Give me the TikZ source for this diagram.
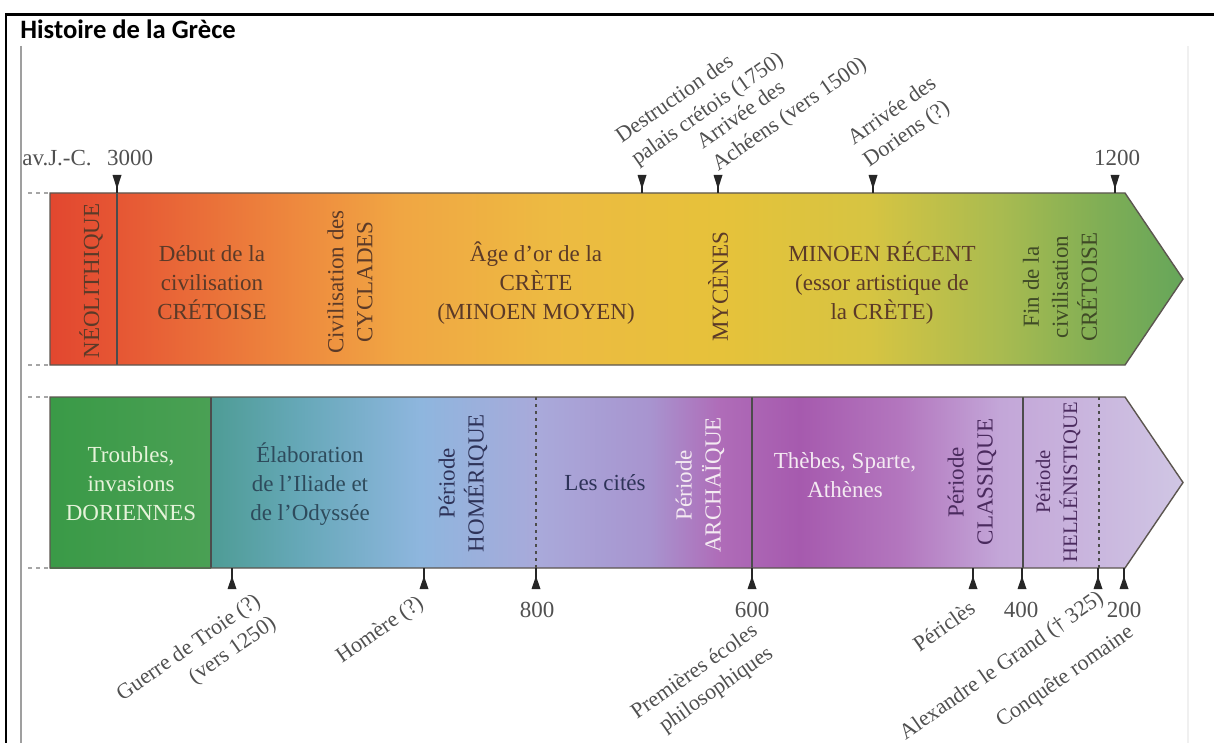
\documentclass[tikz,border=0pt]{standalone}
\usepackage{fontspec}
\setmainfont{Liberation Serif}
\newfontfamily\titlefont{Carlito}
\definecolor{bandline}{HTML}{5C5650}
\definecolor{eventgray}{HTML}{505050}
\definecolor{cretetext}{HTML}{5B3A28}
\definecolor{fintext}{HTML}{3F4A26}
\definecolor{paletext}{HTML}{F4EAF2}
\definecolor{dortext}{HTML}{E6F3DA}
\definecolor{iliadtext}{HTML}{2E4B5C}
\definecolor{navytext}{HTML}{2E3358}
\definecolor{plumtext}{HTML}{4A2A5E}
% couleurs de la bande minoenne
\definecolor{neored}{HTML}{E2472F}
\definecolor{cretered}{HTML}{E65634}
\definecolor{creteorange}{HTML}{EE8A3E}
\definecolor{cycladorange}{HTML}{F0A643}
\definecolor{goldage}{HTML}{EDBA42}
\definecolor{mycgold}{HTML}{E6C23A}
\definecolor{recentgold}{HTML}{D6C442}
\definecolor{finolive}{HTML}{A9BB50}
\definecolor{fingreen}{HTML}{80AE55}
\definecolor{tipgreen}{HTML}{66A65A}
% couleurs de la bande grecque
\definecolor{dorgreen}{HTML}{3A9A47}
\definecolor{dorgreenlight}{HTML}{4AA054}
\definecolor{iliadteal}{HTML}{4E9C95}
\definecolor{iliadblue}{HTML}{66A8B8}
\definecolor{homerblue}{HTML}{8EB6DE}
\definecolor{citylav}{HTML}{A9A9DA}
\definecolor{citylilac}{HTML}{A894CF}
\definecolor{archpurple}{HTML}{AF6CB8}
\definecolor{thebpurple}{HTML}{A65AAE}
\definecolor{classlilac}{HTML}{B376BE}
\definecolor{hellenlav}{HTML}{C3A6D8}
\definecolor{tiplav}{HTML}{D0C6E4}
\pgfdeclarehorizontalshading{minoshade}{100bp}{color(0bp)=(neored); color(25bp)=(neored);
  color(27.96bp)=(cretered); color(36.03bp)=(creteorange); color(40.45bp)=(cycladorange);
  color(47.07bp)=(goldage); color(54.57bp)=(mycgold); color(61.19bp)=(recentgold);
  color(66.92bp)=(finolive); color(71.34bp)=(fingreen); color(75bp)=(tipgreen); color(100bp)=(tipgreen)}
\pgfdeclarehorizontalshading{greekshade}{100bp}{color(0bp)=(iliadteal); color(32.1bp)=(iliadteal);
  color(36.03bp)=(iliadblue); color(41.33bp)=(homerblue); color(46.62bp)=(citylav);
  color(51.48bp)=(citylilac); color(54.57bp)=(archpurple); color(58.1bp)=(thebpurple);
  color(62.5bp)=(classlilac); color(66.92bp)=(hellenlav); color(75bp)=(tiplav); color(100bp)=(tiplav)}
\newcommand{\phasefont}{\fontsize{11.5}{14.5}\selectfont}
\newcommand{\eventfont}{\fontsize{11}{13.5}\selectfont}
\tikzset{
  band/.style={draw=bandline, line width=0.7pt},
  phase/.style={font=\phasefont, align=center, inner sep=0pt},
  vphase/.style={phase, rotate=90},
  event/.style={font=\eventfont, text=eventgray, inner sep=0pt, rotate=35},
  yearlabel/.style={font=\phasefont, text=eventgray, inner sep=0pt},
  divider/.style={draw=black!70, line width=0.6pt},
  softdiv/.style={divider, dash pattern=on 1.5pt off 2pt},
  edgemark/.style={draw=gray!70, line width=0.6pt, dash pattern=on 2pt off 2pt},
}

\begin{document}
\begin{tikzpicture}[x=0.5pt, y=0.5pt]
    \useasboundingbox (0,0) rectangle (1214,-743);
    % cadre
    \draw[line width=1.25pt] (6,-743) -- (6,-14.5) -- (1214,-14.5);
    \draw[gray!75, line width=0.6pt] (21,-46) -- (21,-743);
    \draw[gray!12, line width=0.6pt] (1188,-46) -- (1188,-743);
    \node[anchor=base west, inner sep=0pt, font=\titlefont\bfseries\fontsize{13.3}{16}\selectfont] (title) at (20,-39) {Histoire de la Grèce};

    % bandes
    \shade[shading=minoshade] (50,-193) -- (1125,-193) -- (1183,-279) -- (1125,-365) -- (50,-365) -- cycle;
    \shade[shading=greekshade] (50,-397) -- (1125,-397) -- (1183,-482.5) -- (1125,-568) -- (50,-568) -- cycle;
    \shade[left color=dorgreen, right color=dorgreenlight] (50,-397) rectangle (211,-568);
    \draw[divider] (117,-193) -- (117,-365);
    \draw[divider] (211,-397) -- (211,-568);
    \draw[divider] (752,-397) -- (752,-568);
    \draw[divider] (1023,-397) -- (1023,-568);
    \draw[softdiv] (536,-397) -- (536,-568);
    \draw[softdiv] (1099,-397) -- (1099,-568);
    \draw[band] (50,-193) -- (1125,-193) -- (1183,-279) -- (1125,-365) -- (50,-365) -- cycle;
    \draw[band] (50,-397) -- (1125,-397) -- (1183,-482.5) -- (1125,-568) -- (50,-568) -- cycle;
    \foreach \y in {-193,-365,-397,-568}
      \draw[edgemark] (28,\y) -- (50,\y);

    % reperes
    \foreach \x in {117,642,718,873,1115} {
      \draw[black!85, line width=0.6pt] (\x,-185) -- (\x,-193);
      \fill[black!85] ({\x-4.5},-175) -- ({\x+4.5},-175) -- (\x,-189) -- cycle;
    }
    \foreach \x in {232,424,536,752,973,1022,1098,1124} {
      \draw[black!85, line width=0.6pt] (\x,-568) -- (\x,-580);
      \fill[black!85] ({\x-4.5},-589) -- ({\x+4.5},-589) -- (\x,-576) -- cycle;
    }

    % periodes minoennes
    \node[vphase, text=cretetext] (neo) at (91,-281) {NÉOLITHIQUE};
    \node[phase, text=cretetext] (debut) at (212,-283) {Début de la\\civilisation\\CRÉTOISE};
    \node[vphase, text=cretetext] (cyclades) at (350,-282) {Civilisation des\\CYCLADES};
    \node[phase, text=cretetext] (agedor) at (536,-283) {Âge d’or de la\\CRÈTE\\(MINOEN MOYEN)};
    \node[vphase, text=cretetext] (mycenes) at (718,-287) {MYCÈNES};
    \node[phase, text=cretetext] (minoen) at (882,-283) {MINOEN RÉCENT\\(essor artistique de\\la CRÈTE)};
    \node[vphase, text=fintext] (fin) at (1060,-287) {Fin de la\\civilisation\\CRÉTOISE};

    % periodes grecques
    \node[phase, text=dortext] (troubles) at (131,-484) {Troubles,\\invasions\\DORIENNES};
    \node[phase, text=iliadtext] (iliade) at (310,-484) {Élaboration\\de l’Iliade et\\de l’Odyssée};
    \node[vphase, text=navytext] (homerique) at (463,-483) {Période\\HOMÉRIQUE};
    \node[phase, text=navytext] (cites) at (605,-483) {Les cités};
    \node[vphase, text=paletext] (archaique) at (700,-485) {Période\\ARCHAÏQUE};
    \node[phase, text=paletext] (thebes) at (845,-475) {Thèbes, Sparte,\\Athènes};
    \node[vphase, text=plumtext] (classique) at (972,-482) {Période\\CLASSIQUE};
    \node[vphase, text=plumtext, font=\fontsize{10.3}{13.5}\selectfont] (hellen) at (1058,-482) {Période\\HELLÉNISTIQUE};

    % dates et evenements
    \node[yearlabel] (avjc) at (57,-158) {av.J.-C.};
    \node[yearlabel] (y3000) at (130,-158) {3000};
    \node[yearlabel] (y1200) at (1117,-158) {1200};
    \node[event, anchor=south west, align=left] (destr) at (640,-170) {Destruction des\\palais crétois (1750)};
    \node[event, anchor=south west, align=left] (acheens) at (721,-176) {Arrivée des\\Achéens (vers 1500)};
    \node[event, anchor=south west, align=left] (doriens) at (872,-172) {Arrivée des\\Doriens (?)};
    \node[yearlabel] (y800) at (537,-610) {800};
    \node[yearlabel] (y600) at (752,-610) {600};
    \node[yearlabel] (y400) at (1021,-610) {400};
    \node[yearlabel] (y200) at (1124,-610) {200};
    \node[event, anchor=north east, align=right] (troie) at (253,-591) {Guerre de Troie (?)\\(vers 1250)};
    \node[event, anchor=north east] (homere) at (416,-593) {Homère (?)};
    \node[event, anchor=north east, align=right] (ecoles) at (750,-621) {Premières écoles\\philosophiques};
    \node[event, anchor=north east] (pericles) at (968,-599) {Périclès};
    \node[event, anchor=north east] (alex) at (1096,-588) {Alexandre le Grand (\textdagger{} 325)};
    \node[event, anchor=north east] (conquete) at (1126,-622) {Conquête romaine};
  \end{tikzpicture}
\end{document}
